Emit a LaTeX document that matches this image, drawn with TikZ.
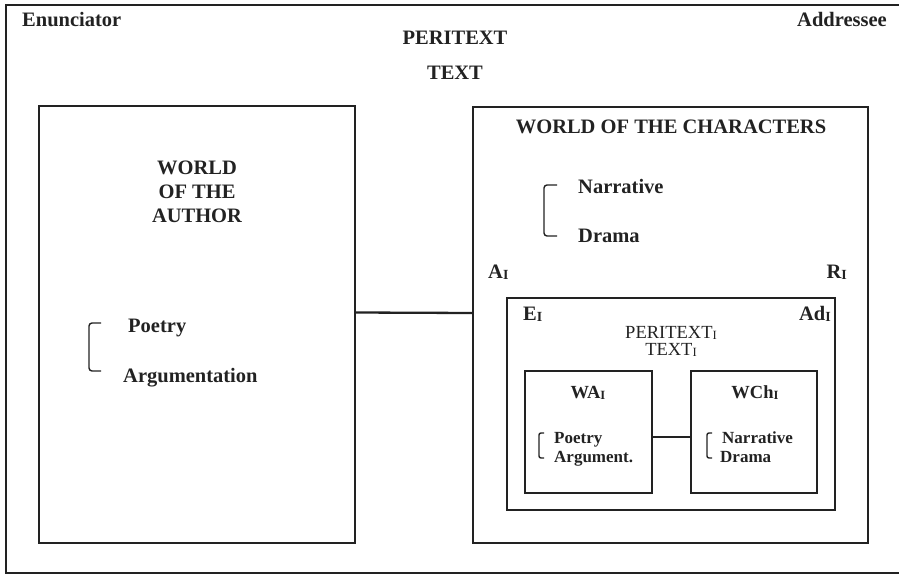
\documentclass[tikz,border=0pt]{standalone}
\usepackage{fontspec}
\setmainfont{Liberation Serif}
\usetikzlibrary{positioning}
\definecolor{ink}{HTML}{222222}
\newcommand{\subI}{\raisebox{-0.2ex}{\scalebox{0.68}{I}}}
\tikzset{
  frame/.style={draw=ink, line width=2pt, inner sep=0pt},
  link/.style={draw=ink, line width=2.3pt},
  brace/.style={draw=ink, line width=1.4pt, rounded corners=3pt},
  big/.style={inner sep=0pt, text=ink, font=\fontsize{20.5}{24}\selectfont\bfseries},
  mid/.style={inner sep=0pt, text=ink, font=\fontsize{18.5}{20}\selectfont\bfseries},
  small/.style={inner sep=0pt, text=ink, font=\fontsize{17}{20}\selectfont\bfseries},
  plain/.style={inner sep=0pt, text=ink, font=\fontsize{18.5}{20}\selectfont},
}
\begin{document}
\begin{tikzpicture}[x=1pt,y=-1pt]
    \useasboundingbox (0,0) rectangle (899,575);
    % outer frame, open on the right
    \draw[ink, line width=1.8pt] (905,5) -- (6,5) -- (6,573) -- (905,573);

    % boxes
    \node[frame, minimum width=316pt, minimum height=437pt] (author) at (197,324.5) {};
    \node[frame, minimum width=395pt, minimum height=436pt] (chars) at (670.5,325) {};
    \node[frame, minimum width=328pt, minimum height=212pt] (inner) at (671,404) {};
    \node[frame, minimum width=127pt, minimum height=122pt] (wai) at (588.5,432) {};
    \node[frame, minimum width=126pt, minimum height=122pt] (wchi) at (754,432) {};

    \draw[link] ([yshift=12pt]author.east) -- ([yshift=12pt]chars.west);
    \draw[link] ([yshift=-5pt]wai.east) -- ([yshift=-5pt]wchi.west);

    % top labels
    \node[big, anchor=base west] (enun) at (22,27) {Enunciator};
    \node[big, anchor=base east] (addr) at (887,27) {Addressee};
    \node[big, anchor=base] (peri) at (455,45) {PERITEXT};
    \node[big, anchor=base] (text) at (455,80) {TEXT};

    % world of the author
    \node[big, anchor=north, align=center] (wauth) at (197,161) {WORLD\\OF THE\\AUTHOR};
    \node[big, anchor=base west] (poet) at (128,332) {Poetry};
    \node[big, anchor=base west] (argu) at (123,382) {Argumentation};
    \draw[brace] (101,323) -- (89,323) -- (89,371) -- (101,371);

    % world of the characters
    \node[big, anchor=base] (wchar) at (671,133) {WORLD OF THE CHARACTERS};
    \node[big, anchor=base west] (narr) at (578,193) {Narrative};
    \node[big, anchor=base west] (drama) at (578,242) {Drama};
    \draw[brace] (557,185) -- (544,185) -- (544,236) -- (557,236);
    \node[big, anchor=base west] (ai) at (488,278) {A\subI};
    \node[big, anchor=base east] (ri) at (847,278) {R\subI};

    % embedded text
    \node[big, anchor=base west] (ei) at (523,320) {E\subI};
    \node[big, anchor=base east] (adi) at (831,320) {Ad\subI};
    \node[plain, anchor=base] (perii) at (671,338) {PERITEXT\subI};
    \node[plain, anchor=base] (texti) at (671,355) {TEXT\subI};

    \node[mid, anchor=base] (wailbl) at (588,398) {WA\subI};
    \node[mid, anchor=base] (wchilbl) at (755,398) {WCh\subI};
    \node[small, anchor=base west] (poeti) at (554,443) {Poetry};
    \node[small, anchor=base west] (argi) at (554,462) {Argument.};
    \draw[brace, rounded corners=2pt] (544,433) -- (539,433) -- (539,458) -- (544,458);
    \node[small, anchor=base west] (narri) at (722,443) {Narrative};
    \node[small, anchor=base west] (dramai) at (720,462) {Drama};
    \draw[brace, rounded corners=2pt] (712,433) -- (707,433) -- (707,458) -- (712,458);
\end{tikzpicture}
\end{document}
